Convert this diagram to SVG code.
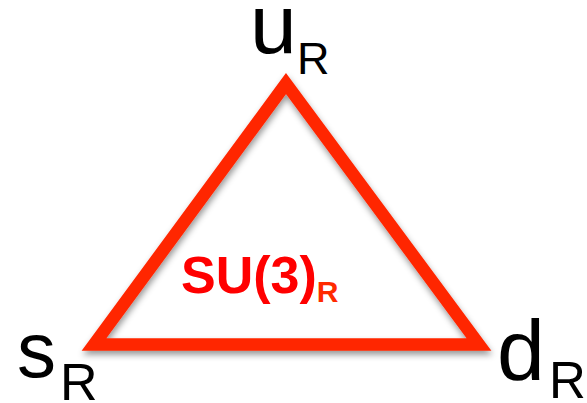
<svg xmlns="http://www.w3.org/2000/svg" width="587" height="403" viewBox="0 0 587 403">
<defs>
<filter id="sh" x="-20%" y="-20%" width="140%" height="140%">
<feDropShadow dx="1" dy="4" stdDeviation="3" flood-color="#000" flood-opacity="0.4"/>
</filter>
<style>
.lbl{font-family:"Liberation Sans",Arial,sans-serif;fill:#000}
.sub{font-family:"Liberation Sans",Arial,sans-serif;fill:#000}
.su{font-family:"Liberation Sans",Arial,sans-serif;font-weight:bold;fill:#ff0000}
</style>
</defs>
<rect width="587" height="403" fill="#fff"/>
<g id="connectors">
<polygon points="286,83.5 94,344.5 479,344.5" fill="none" stroke="#ff2600" stroke-width="12.5" stroke-linejoin="miter" stroke-miterlimit="10" filter="url(#sh)"/>
</g>
<g id="node-u">
<text class="lbl" x="250" y="53" font-size="84">u</text>
<text class="sub" x="297" y="74" font-size="45">R</text>
</g>
<g id="node-s">
<text class="lbl" x="17" y="377" font-size="78">s</text>
<text class="sub" x="60" y="400" font-size="52">R</text>
</g>
<g id="node-d">
<text class="lbl" x="497" y="380" font-size="86">d</text>
<text class="sub" x="549" y="398" font-size="51">R</text>
</g>
<g id="label-su3">
<text class="su" x="181" y="293" font-size="52">SU(3)<tspan font-size="30" fill="#ff2a00" dy="9">R</tspan></text>
</g>
</svg>
